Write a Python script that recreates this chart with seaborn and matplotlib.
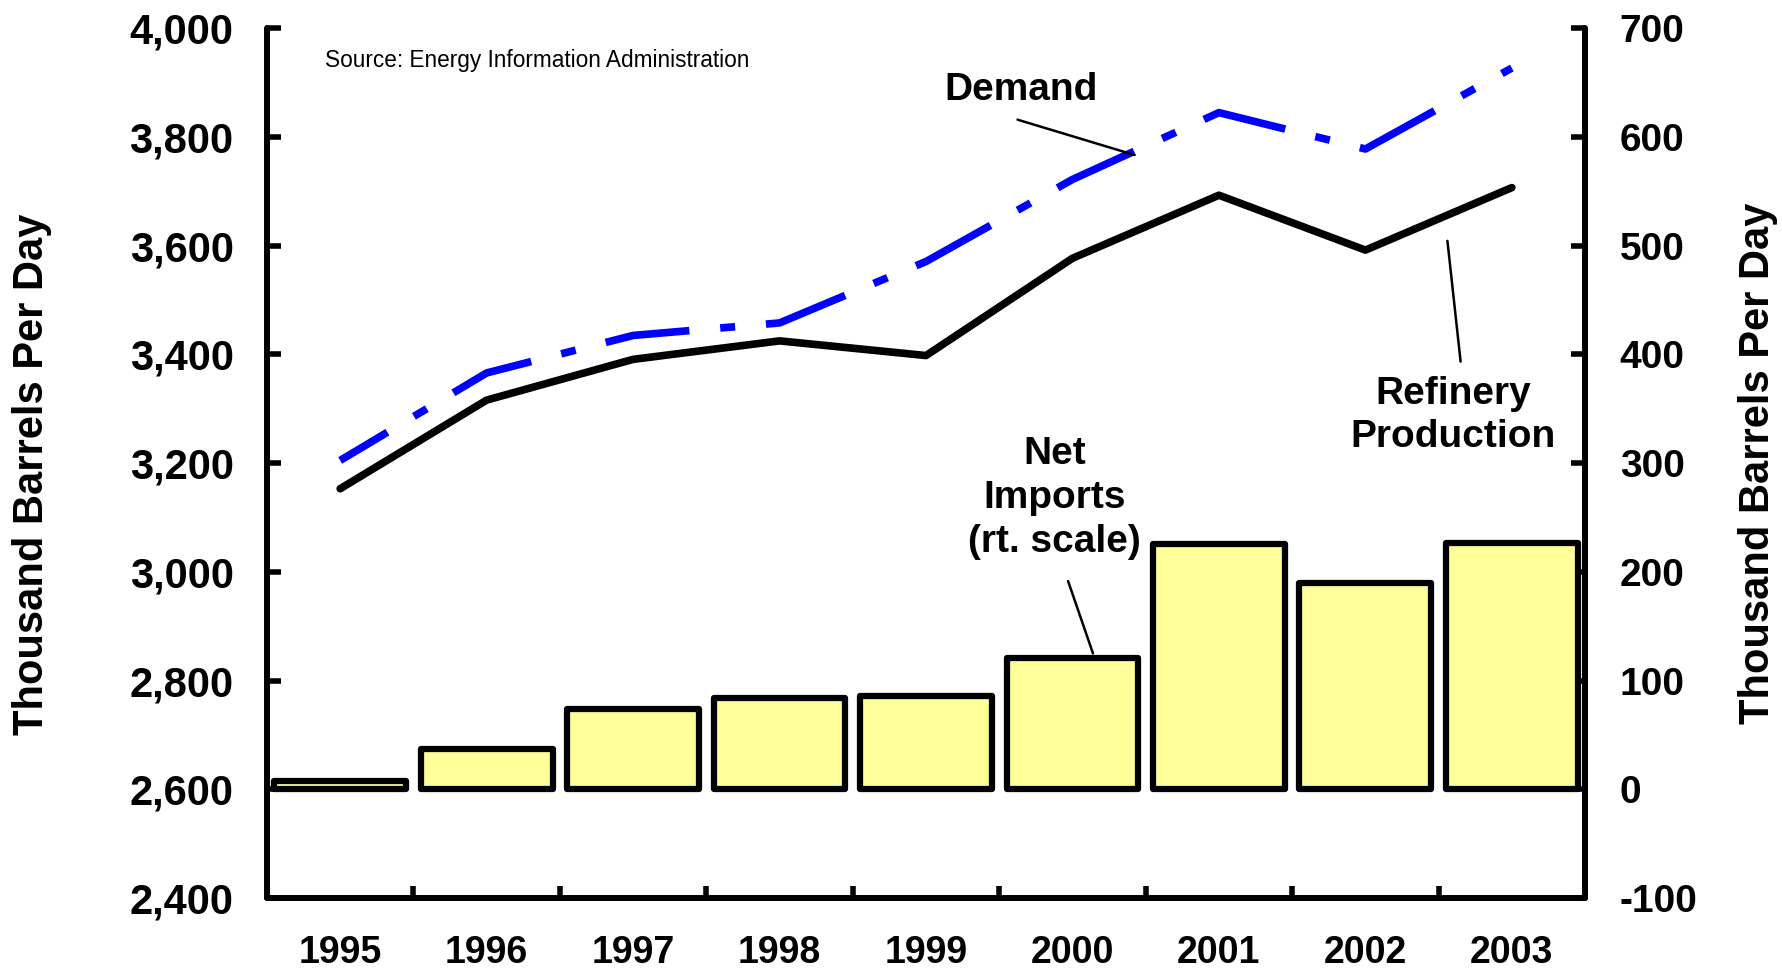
import numpy as np
import pandas as pd
import matplotlib
matplotlib.use("Agg")
import matplotlib.pyplot as plt
import seaborn as sns
from matplotlib.ticker import FuncFormatter, FixedLocator

# Data (thousand barrels per day)
years = ["1995", "1996", "1997", "1998", "1999", "2000", "2001", "2002", "2003"]
demand = [3205, 3366, 3435, 3458, 3571, 3722, 3845, 3778, 3927]
refinery_production = [3153, 3316, 3391, 3425, 3398, 3577, 3693, 3592, 3707]
net_imports = [8, 37, 74, 84, 86, 121, 226, 190, 227]

left_ticks = [2400, 2600, 2800, 3000, 3200, 3400, 3600, 3800, 4000]
right_ticks = [-100, 0, 100, 200, 300, 400, 500, 600, 700]

sns.set_theme(style="white")
plt.rcParams["font.family"] = ["Liberation Sans", "DejaVu Sans"]
plt.rcParams["font.weight"] = "bold"
for key in ("text.color", "axes.labelcolor", "xtick.color", "ytick.color"):
    plt.rcParams[key] = "black"

df = pd.DataFrame({
    "year": years,
    "pos": np.arange(len(years)),
    "demand": demand,
    "refinery": refinery_production,
    "imports": net_imports,
})

fig = plt.figure(figsize=(17.82, 9.71), dpi=100)
ax = fig.add_axes([0.1498, 0.0752, 0.7397, 0.8956])
ax2 = ax.twinx()

# Net imports bars on the right-hand scale
sns.barplot(data=df, x="year", y="imports", ax=ax2, color="#FFFF99",
            saturation=1, width=0.9, edgecolor="black", linewidth=4.5)
for p in ax2.patches:
    p.set_joinstyle("round")

# Demand and refinery production on the left-hand scale
sns.lineplot(data=df, x="pos", y="refinery", ax=ax, color="black",
             linewidth=5.5, solid_capstyle="round", solid_joinstyle="round")
sns.lineplot(data=df, x="pos", y="demand", ax=ax, color="#0000FF",
             linewidth=5.5)
demand_line = ax.get_lines()[-1]
demand_line.set_linestyle((3.9, (11.1, 4.05, 1.96, 4.05)))
demand_line.set_dash_capstyle("butt")

ax.set_zorder(ax2.get_zorder() + 1)
ax.patch.set_visible(False)

ax.set_xlim(-0.5, len(years) - 0.5)
ax.set_ylim(left_ticks[0], left_ticks[-1])
ax2.set_ylim(right_ticks[0], right_ticks[-1])

# Axis ticks
ax.xaxis.set_major_locator(FixedLocator(np.arange(len(years))))
ax.set_xticklabels(years)
ax.xaxis.set_minor_locator(FixedLocator(np.arange(len(years) - 1) + 0.5))
ax.tick_params(axis="x", which="major", length=0, labelsize=27, pad=27)
ax.tick_params(axis="x", which="minor", direction="in", length=9, width=4,
               bottom=True, color="black")

ax.yaxis.set_major_locator(FixedLocator(left_ticks))
ax.yaxis.set_major_formatter(FuncFormatter(lambda v, p: f"{int(v):,}"))
ax.tick_params(axis="y", direction="in", length=10, width=4, labelsize=30,
               pad=24, left=True, color="black")

ax2.yaxis.set_major_locator(FixedLocator(right_ticks))
ax2.yaxis.set_major_formatter(FuncFormatter(lambda v, p: f"{int(v)}"))
ax2.tick_params(axis="y", direction="in", length=10, width=4, labelsize=28,
                pad=25, right=True, color="black")

for a in (ax, ax2):
    for lbl in a.get_xticklabels() + a.get_yticklabels():
        lbl.set_fontweight("bold")

# Spines
for side in ("top", "right"):
    ax.spines[side].set_visible(False)
for side in ("top", "left", "bottom"):
    ax2.spines[side].set_visible(False)
for sp in (ax.spines["left"], ax.spines["bottom"], ax2.spines["right"]):
    sp.set_linewidth(4.3)
    sp.set_color("black")
    sp.set_capstyle("round")

ax.set_xlabel("")
ax.set_ylabel("Thousand Barrels Per Day", fontsize=30, fontweight="bold")
ax.yaxis.set_label_coords(-0.163, 0.487)
ax2.set_ylabel("Thousand Barrels Per Day", fontsize=30, fontweight="bold",
               rotation=90)
ax2.yaxis.set_label_coords(1.116, 0.5)

# Labels and leader lines
ax.text(-0.105, 3940, "Source: Energy Information Administration",
        fontsize=16.3, fontweight="normal", ha="left", va="center")
ax.text(4.65, 3887, "Demand", fontsize=28, fontweight="bold",
        ha="center", va="center")
ax.text(4.876, 3136, "Net\nImports\n(rt. scale)", fontsize=28,
        fontweight="bold", ha="center", va="center", linespacing=1.27)
ax.text(7.60, 3288, "Refinery\nProduction", fontsize=28, fontweight="bold",
        ha="center", va="center", linespacing=1.27)

leaders = [((4.625, 3832), (5.424, 3767)),
           ((7.56, 3609), (7.65, 3387)),
           ((4.97, 2983), (5.14, 2850))]
for (x0, y0), (x1, y1) in leaders:
    ax.annotate("", xy=(x1, y1), xytext=(x0, y0),
                arrowprops=dict(arrowstyle="-", color="black", lw=1.8,
                                shrinkA=0, shrinkB=0))

fig.savefig("out.png", dpi=100)
